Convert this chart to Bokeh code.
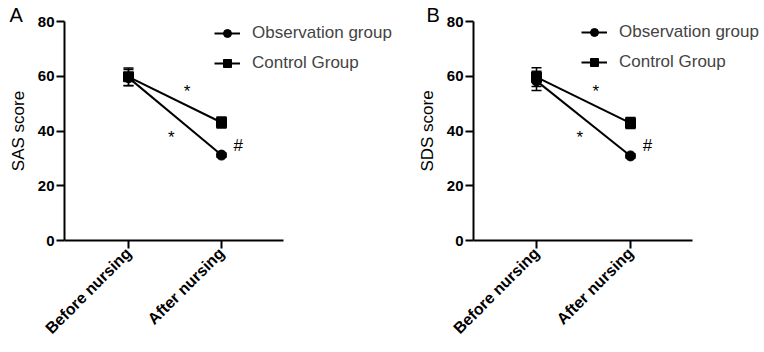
import math
from bokeh.plotting import figure
from bokeh.layouts import row
from bokeh.models import FixedTicker, Legend, LegendItem, Whisker, ColumnDataSource, Range1d, Title
from bokeh.models import TeeHead
from bokeh.core.properties import value
from bokeh.embed import file_html
from bokeh.resources import INLINE

categories = ["Before nursing", "After nursing"]
series_names = ["Observation group", "Control Group"]

# Panel A (SAS)
sas_obs = [59.5, 31.2]
sas_obs_err = [3.0, 0.8]
sas_ctl = [59.8, 43.1]
sas_ctl_err = [3.2, 2.0]

# Panel B (SDS)
sds_obs = [58.3, 30.9]
sds_obs_err = [3.5, 0.8]
sds_ctl = [59.7, 42.9]
sds_ctl_err = [3.4, 2.0]

y_ticks = [0, 20, 40, 60, 80]

# significance marks: text, x position (category units), y value
annot_text = ["*", "*", "#"]
annot_x = [0.63, 0.46, 1.18]
annot_y = [54.6, 37.8, 34.7]

FONT = "Liberation Sans"
H = 352
TOP = 21
BOTTOM = 112


def make_panel(letter, ylabel, obs, obs_err, ctl, ctl_err, width, left_border,
               first_cat_px, px_per_cat, axis_len, legend_x, legend_y, letter_offset):
    xs = list(range(len(categories)))
    frame_w = width - left_border
    x_start = -first_cat_px / px_per_cat
    x_end = x_start + frame_w / px_per_cat
    p = figure(width=width, height=H, output_backend="svg", toolbar_location=None,
               x_range=Range1d(x_start, x_end), y_range=Range1d(0, 80),
               min_border_left=left_border, min_border_right=0,
               min_border_top=TOP, min_border_bottom=BOTTOM)
    p.outline_line_color = None
    p.grid.visible = False
    p.background_fill_color = "white"
    p.border_fill_color = "white"

    # axes
    p.xaxis.ticker = FixedTicker(ticks=xs)
    p.xaxis.bounds = (x_start, x_start + axis_len / px_per_cat)
    p.xaxis.major_label_overrides = {i: c for i, c in enumerate(categories)}
    p.xaxis.major_label_orientation = math.pi / 4
    p.xaxis.major_label_text_font = FONT
    p.xaxis.major_label_text_font_style = "bold"
    p.xaxis.major_label_text_font_size = "16px"
    p.xaxis.major_label_text_color = "black"
    p.xaxis.minor_tick_line_color = None
    p.xaxis.major_tick_in = 0
    p.xaxis.major_tick_out = 8
    p.xaxis.major_label_standoff = 2

    p.yaxis.ticker = FixedTicker(ticks=y_ticks)
    p.yaxis.major_label_text_font = FONT
    p.yaxis.major_label_text_font_style = "bold"
    p.yaxis.major_label_text_font_size = "15px"
    p.yaxis.major_label_text_color = "black"
    p.yaxis.minor_tick_line_color = None
    p.yaxis.major_tick_in = 0
    p.yaxis.major_tick_out = 8
    p.yaxis.major_label_standoff = 2
    p.yaxis.axis_label = ylabel
    p.yaxis.axis_label_text_font = FONT
    p.yaxis.axis_label_text_font_style = "normal"
    p.yaxis.axis_label_text_font_size = "17px"
    p.yaxis.axis_label_text_color = "black"
    p.yaxis.axis_label_standoff = 7

    for ax in (p.xaxis, p.yaxis):
        ax.axis_line_width = 2
        ax.major_tick_line_width = 2
        ax.axis_line_color = "black"
        ax.major_tick_line_color = "black"

    # error bars
    src_o = ColumnDataSource(dict(x=xs, y=obs, lo=[a - b for a, b in zip(obs, obs_err)],
                                  hi=[a + b for a, b in zip(obs, obs_err)]))
    src_c = ColumnDataSource(dict(x=xs, y=ctl, lo=[a - b for a, b in zip(ctl, ctl_err)],
                                  hi=[a + b for a, b in zip(ctl, ctl_err)]))
    for src in (src_o, src_c):
        w = Whisker(source=src, base="x", lower="lo", upper="hi", line_width=1.5, line_color="black",
                    upper_head=TeeHead(size=10, line_width=1.5, line_color="black"),
                    lower_head=TeeHead(size=10, line_width=1.5, line_color="black"))
        p.add_layout(w)

    lo = p.line("x", "y", source=src_o, line_width=2, line_color="black")
    so = p.scatter("x", "y", source=src_o, marker="circle", size=10, color="black")
    lc = p.line("x", "y", source=src_c, line_width=2, line_color="black")
    sc = p.scatter("x", "y", source=src_c, marker="square", size=10, color="black")

    # significance marks
    p.text(x=annot_x, y=annot_y, text=annot_text, text_font=value(FONT), text_font_size="17px",
           text_align="center", text_baseline="middle", text_color="black")

    legend = Legend(items=[LegendItem(label=series_names[0], renderers=[lo, so]),
                           LegendItem(label=series_names[1], renderers=[lc, sc])],
                    location=(legend_x, legend_y), orientation="vertical",
                    background_fill_alpha=0, border_line_color=None,
                    label_text_font=FONT, label_text_font_size="17px",
                    glyph_width=26, glyph_height=20, label_standoff=12, spacing=10,
                    padding=0, margin=0)
    p.add_layout(legend, "center")

    p.add_layout(Title(text=letter, align="left", offset=letter_offset, standoff=-8,
                       text_font=FONT, text_font_style="normal", text_font_size="20px",
                       text_color="black"), "above")
    return p


pA = make_panel("A", "SAS score", sas_obs, sas_obs_err, sas_ctl, sas_ctl_err,
                398, 64, 64, 93.0, 219, 150, 167, -55)
pB = make_panel("B", "SDS score", sds_obs, sds_obs_err, sds_ctl, sds_ctl_err,
                366, 75, 63, 94.0, 219, 108, 168, -47)

layout = row(pA, pB, spacing=0)
open("out.html", "w").write(file_html(layout, INLINE))
